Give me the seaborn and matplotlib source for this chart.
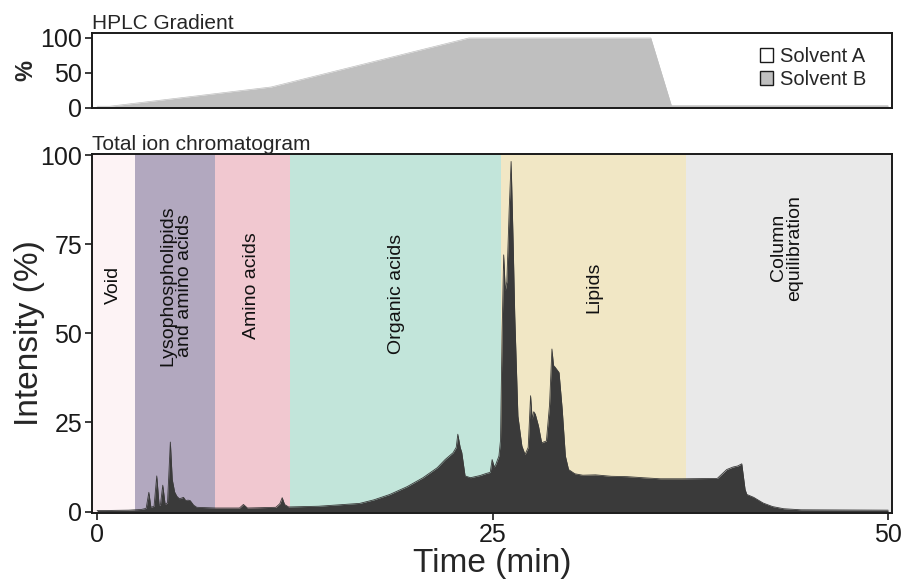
import numpy as np
import pandas as pd
import matplotlib
matplotlib.use("Agg")
import matplotlib.pyplot as plt
import matplotlib.patches as mpatches
import seaborn as sns

# ---------------- data ----------------
grad_time = [0.0, 0.8, 11.0, 23.5, 35.0, 36.3, 50.0]
grad_b = [2.5, 2.5, 30.0, 100.0, 100.0, 3.5, 3.5]

tic_time = [0.0, 0.5, 2.0, 2.8, 3.1, 3.27, 3.4, 3.6, 3.77, 3.92, 4.0, 4.15, 4.3, 4.45,
            4.63, 4.75, 4.9, 5.04, 5.2, 5.35, 5.46, 5.6, 5.75, 5.88, 6.1, 6.3, 7.5,
            9.0, 9.25, 9.5, 11.3, 11.55, 11.7, 11.85, 12.1, 14.0, 16.6, 17.5, 18.5,
            19.6, 20.6, 21.5, 22.0, 22.5, 22.7, 22.8, 22.95, 23.05, 23.26, 23.6, 23.9,
            24.2, 24.6, 24.85, 24.97, 25.1, 25.2, 25.4, 25.5, 25.6, 25.7, 25.8, 25.9,
            26.05, 26.17, 26.3, 26.4, 26.6, 26.85, 27.05, 27.25, 27.4, 27.5, 27.6,
            27.7, 27.9, 28.1, 28.4, 28.6, 28.75, 28.85, 28.95, 29.2, 29.4, 29.6, 29.8,
            30.2, 30.7, 31.5, 32.5, 33.5, 34.5, 35.6, 37.0, 39.2, 39.8, 40.2, 40.5,
            40.75, 40.96, 41.07, 41.5, 42.1, 42.7, 43.4, 44.5, 50.0]
tic_int = [0.3, 0.3, 0.4, 0.6, 0.9, 5.4, 1.2, 1.5, 10.0, 1.8, 1.8, 7.4, 2.0, 2.5,
           19.5, 9.0, 5.5, 4.3, 3.6, 3.8, 4.0, 3.1, 3.2, 3.1, 1.8, 1.2, 1.0,
           1.0, 2.0, 1.0, 1.2, 2.2, 3.9, 2.0, 1.3, 1.5, 2.3, 3.3, 4.8,
           7.0, 9.5, 12.3, 14.6, 16.5, 18.0, 21.7, 18.0, 16.6, 10.0, 9.5, 9.8,
           10.1, 10.7, 11.0, 14.6, 12.5, 13.2, 15.6, 20.0, 50.0, 72.0, 62.0, 64.5,
           85.0, 98.2, 75.0, 55.0, 26.8, 18.4, 16.0, 18.0, 32.5, 26.0, 28.0,
           27.3, 24.0, 19.3, 19.8, 30.0, 45.6, 41.0, 40.5, 39.0, 28.7, 15.6, 11.8,
           10.6, 10.2, 10.3, 9.9, 9.8, 9.5, 9.2, 9.2, 9.3, 11.8, 12.5, 12.8,
           13.4, 6.2, 4.8, 4.0, 2.4, 1.4, 0.8, 0.5, 0.4]

region_names = ["Void", "Lysophospholipids\nand amino acids", "Amino acids",
                "Organic acids", "Lipids", "Column\nequilibration"]
region_start = [-0.4, 2.4, 7.45, 12.2, 25.5, 37.2]
region_end = [2.4, 7.45, 12.2, 25.5, 37.2, 50.4]
region_colors = ["#fdf3f5", "#b2a8bf", "#f1c8d0", "#c2e5da", "#f1e7c5", "#e9e9e9"]
label_x = [1.05, 5.0, 9.75, 18.9, 31.4, 43.6]
label_y = [63.5, 63.5, 63.5, 61.0, 63.0, 74.0]

x_ticks = [0, 25, 50]
y_ticks_main = [0, 25, 50, 75, 100]
y_ticks_top = [0, 50, 100]

grad_df = pd.DataFrame({"Time": grad_time, "B": grad_b})
tic_df = pd.DataFrame({"Time": tic_time, "Intensity": tic_int})

# ---------------- style ----------------
sns.set_theme(style="ticks")
plt.rcParams["font.family"] = ["Liberation Sans", "DejaVu Sans"]
plt.rcParams["axes.linewidth"] = 1.4
plt.rcParams["axes.edgecolor"] = "#1a1a1a"

fig = plt.figure(figsize=(9.05, 5.8), dpi=100)
ax_top = fig.add_axes([0.1017, 0.8138, 0.8840, 0.1292])
ax = fig.add_axes([0.1017, 0.1155, 0.8840, 0.6190])

xlim = (-0.32, 50.25)

# ---------------- top panel: gradient ----------------
sns.lineplot(data=grad_df, x="Time", y="B", ax=ax_top, color="#bfbfbf", linewidth=0.5)
ax_top.fill_between(grad_df["Time"], 0, grad_df["B"], color="#bfbfbf", linewidth=0)
ax_top.set_xlim(*xlim)
ax_top.set_ylim(0, 107)
ax_top.set_xticks([])
ax_top.set_yticks(y_ticks_top)
ax_top.tick_params(axis="y", labelsize=18, length=5, width=1.2, pad=2, colors="#1a1a1a")
ax_top.set_xlabel("")
ax_top.set_ylabel("%", fontsize=17, fontweight="bold", labelpad=2)
ax_top.set_title("HPLC Gradient", loc="left", fontsize=15, pad=3)
handles = [mpatches.Patch(facecolor="white", edgecolor="#1a1a1a", linewidth=1.0, label="Solvent A"),
           mpatches.Patch(facecolor="#bfbfbf", edgecolor="#1a1a1a", linewidth=1.0, label="Solvent B")]
ax_top.legend(handles=handles, loc="center right", bbox_to_anchor=(0.985, 0.53),
              frameon=False, fontsize=14.5, handlelength=0.65, handleheight=0.65,
              handletextpad=0.35, labelspacing=0.2, borderpad=0.2)

# ---------------- main panel: TIC ----------------
for s, e, c in zip(region_start, region_end, region_colors):
    ax.axvspan(s, e, color=c, linewidth=0, zorder=0)
sns.lineplot(data=tic_df, x="Time", y="Intensity", ax=ax, color="#3a3a3a",
             linewidth=0.6, zorder=2)
ax.fill_between(tic_df["Time"], 0, tic_df["Intensity"], color="#3a3a3a",
                linewidth=0, zorder=2)
for name, lx, ly in zip(region_names, label_x, label_y):
    ax.text(lx, ly, name, rotation=90, ha="center", va="center", fontsize=14,
            color="#111111", linespacing=0.95, zorder=3)

ax.set_xlim(*xlim)
ax.set_ylim(-0.4, 100.3)
ax.set_xticks(x_ticks)
ax.set_yticks(y_ticks_main)
ax.tick_params(labelsize=18, length=5, width=1.2, pad=2, colors="#1a1a1a")
ax.set_xlabel("Time (min)", fontsize=24, labelpad=1)
ax.set_ylabel("Intensity (%)", fontsize=24, labelpad=-3)
ax.set_title("Total ion chromatogram", loc="left", fontsize=15, pad=3)

fig.savefig("out.png", dpi=100)
